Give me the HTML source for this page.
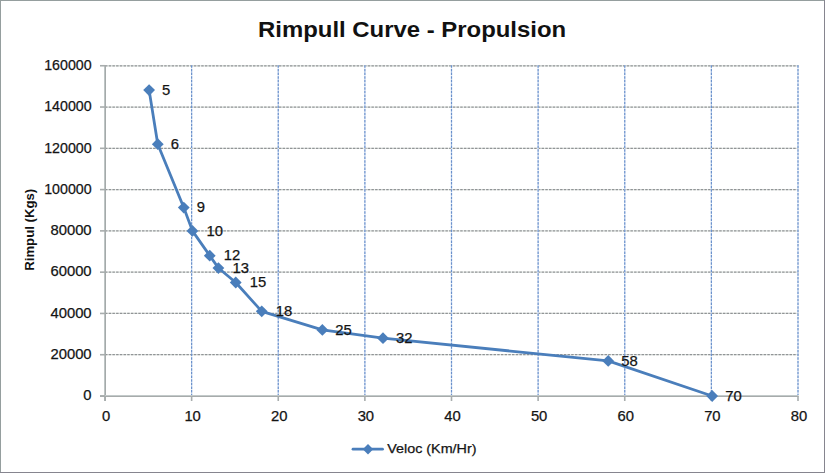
<!DOCTYPE html>
<html><head><meta charset="utf-8"><title>Rimpull Curve - Propulsion</title>
<style>
html,body{margin:0;padding:0;background:#fff;}
body{width:825px;height:473px;overflow:hidden;}
svg{display:block;}
.hg{stroke:#919496;stroke-width:1.25;stroke-dasharray:2.5 1.2;fill:none;}
.vg{stroke:#6990cc;stroke-width:1.2;stroke-dasharray:2.5 1.15;fill:none;}
.hgu{stroke:#e6ebe8;stroke-width:1.3;fill:none;}
.vgu{stroke:#dde7f5;stroke-width:1.3;fill:none;}
.ax{stroke:#a8adad;stroke-width:2;fill:none;}
.tk{stroke:#a8adad;stroke-width:1.6;fill:none;}
.sr{stroke:#4a7ebb;stroke-width:2.8;fill:none;stroke-linejoin:round;stroke-linecap:round;}
.mk{fill:#4a7ebb;stroke:none;}
.lb{font-family:"Liberation Sans", Arial, sans-serif;font-size:14.8px;fill:#141414;stroke:#141414;stroke-width:0.25px;}
.tt{font-family:"Liberation Sans", Arial, sans-serif;font-size:21.8px;font-weight:bold;fill:#111;}
.yt{font-family:"Liberation Sans", Arial, sans-serif;font-size:13px;font-weight:bold;fill:#111;}
</style></head>
<body>
<svg width="825" height="473" viewBox="0 0 825 473">
<rect x="0" y="0" width="825" height="473" fill="#fff"/>
<rect x="0.5" y="0.5" width="824" height="472" fill="none" stroke="#959e9e" stroke-width="1"/>
<line x1="824.5" y1="0" x2="824.5" y2="473" stroke="#86858f" stroke-width="1"/>
<line x1="0" y1="472.5" x2="825" y2="472.5" stroke="#86858f" stroke-width="1"/>
<line x1="105" y1="354.72" x2="798.50" y2="354.72" class="hgu"/>
<line x1="105" y1="354.72" x2="798.50" y2="354.72" class="hg"/>
<line x1="105" y1="313.44" x2="798.50" y2="313.44" class="hgu"/>
<line x1="105" y1="313.44" x2="798.50" y2="313.44" class="hg"/>
<line x1="105" y1="272.16" x2="798.50" y2="272.16" class="hgu"/>
<line x1="105" y1="272.16" x2="798.50" y2="272.16" class="hg"/>
<line x1="105" y1="230.88" x2="798.50" y2="230.88" class="hgu"/>
<line x1="105" y1="230.88" x2="798.50" y2="230.88" class="hg"/>
<line x1="105" y1="189.59" x2="798.50" y2="189.59" class="hgu"/>
<line x1="105" y1="189.59" x2="798.50" y2="189.59" class="hg"/>
<line x1="105" y1="148.31" x2="798.50" y2="148.31" class="hgu"/>
<line x1="105" y1="148.31" x2="798.50" y2="148.31" class="hg"/>
<line x1="105" y1="107.03" x2="798.50" y2="107.03" class="hgu"/>
<line x1="105" y1="107.03" x2="798.50" y2="107.03" class="hg"/>
<line x1="105" y1="65.75" x2="798.50" y2="65.75" class="hgu"/>
<line x1="105" y1="65.75" x2="798.50" y2="65.75" class="hg"/>
<line x1="191.62" y1="65.25" x2="191.62" y2="395" class="vgu"/>
<line x1="191.62" y1="65.25" x2="191.62" y2="395" class="vg"/>
<line x1="278.25" y1="65.25" x2="278.25" y2="395" class="vgu"/>
<line x1="278.25" y1="65.25" x2="278.25" y2="395" class="vg"/>
<line x1="364.88" y1="65.25" x2="364.88" y2="395" class="vgu"/>
<line x1="364.88" y1="65.25" x2="364.88" y2="395" class="vg"/>
<line x1="451.50" y1="65.25" x2="451.50" y2="395" class="vgu"/>
<line x1="451.50" y1="65.25" x2="451.50" y2="395" class="vg"/>
<line x1="538.12" y1="65.25" x2="538.12" y2="395" class="vgu"/>
<line x1="538.12" y1="65.25" x2="538.12" y2="395" class="vg"/>
<line x1="624.75" y1="65.25" x2="624.75" y2="395" class="vgu"/>
<line x1="624.75" y1="65.25" x2="624.75" y2="395" class="vg"/>
<line x1="711.38" y1="65.25" x2="711.38" y2="395" class="vgu"/>
<line x1="711.38" y1="65.25" x2="711.38" y2="395" class="vg"/>
<line x1="798.00" y1="65.25" x2="798.00" y2="395" class="vgu"/>
<line x1="798.00" y1="65.25" x2="798.00" y2="395" class="vg"/>
<line x1="104.5" y1="65.25" x2="104.5" y2="401" style="stroke:#bec5c5;stroke-width:1"/>
<line x1="105.5" y1="65.25" x2="105.5" y2="401" style="stroke:#a5aaaa;stroke-width:1"/>
<line x1="100" y1="395.5" x2="798.50" y2="395.5" style="stroke:#c3caca;stroke-width:1"/>
<line x1="100" y1="396.5" x2="798.50" y2="396.5" style="stroke:#a7abab;stroke-width:1"/>
<line x1="100" y1="396.00" x2="105" y2="396.00" class="tk"/>
<line x1="100" y1="354.72" x2="105" y2="354.72" class="tk"/>
<line x1="100" y1="313.44" x2="105" y2="313.44" class="tk"/>
<line x1="100" y1="272.16" x2="105" y2="272.16" class="tk"/>
<line x1="100" y1="230.88" x2="105" y2="230.88" class="tk"/>
<line x1="100" y1="189.59" x2="105" y2="189.59" class="tk"/>
<line x1="100" y1="148.31" x2="105" y2="148.31" class="tk"/>
<line x1="100" y1="107.03" x2="105" y2="107.03" class="tk"/>
<line x1="100" y1="65.75" x2="105" y2="65.75" class="tk"/>
<line x1="105.00" y1="396" x2="105.00" y2="401" class="tk"/>
<line x1="191.62" y1="396" x2="191.62" y2="401" class="tk"/>
<line x1="278.25" y1="396" x2="278.25" y2="401" class="tk"/>
<line x1="364.88" y1="396" x2="364.88" y2="401" class="tk"/>
<line x1="451.50" y1="396" x2="451.50" y2="401" class="tk"/>
<line x1="538.12" y1="396" x2="538.12" y2="401" class="tk"/>
<line x1="624.75" y1="396" x2="624.75" y2="401" class="tk"/>
<line x1="711.38" y1="396" x2="711.38" y2="401" class="tk"/>
<line x1="798.00" y1="396" x2="798.00" y2="401" class="tk"/>
<text x="91.6" y="400.20" text-anchor="end" class="lb">0</text>
<text x="91.6" y="358.92" text-anchor="end" class="lb">20000</text>
<text x="91.6" y="317.64" text-anchor="end" class="lb">40000</text>
<text x="91.6" y="276.36" text-anchor="end" class="lb">60000</text>
<text x="91.6" y="235.07" text-anchor="end" class="lb">80000</text>
<text x="91.6" y="193.79" text-anchor="end" class="lb" textLength="47.4" lengthAdjust="spacingAndGlyphs">100000</text>
<text x="91.6" y="152.51" text-anchor="end" class="lb" textLength="47.4" lengthAdjust="spacingAndGlyphs">120000</text>
<text x="91.6" y="111.23" text-anchor="end" class="lb" textLength="47.4" lengthAdjust="spacingAndGlyphs">140000</text>
<text x="91.6" y="69.95" text-anchor="end" class="lb" textLength="47.4" lengthAdjust="spacingAndGlyphs">160000</text>
<text x="106.00" y="420.6" text-anchor="middle" class="lb">0</text>
<text x="192.62" y="420.6" text-anchor="middle" class="lb">10</text>
<text x="279.25" y="420.6" text-anchor="middle" class="lb">20</text>
<text x="365.88" y="420.6" text-anchor="middle" class="lb">30</text>
<text x="452.50" y="420.6" text-anchor="middle" class="lb">40</text>
<text x="539.12" y="420.6" text-anchor="middle" class="lb">50</text>
<text x="625.75" y="420.6" text-anchor="middle" class="lb">60</text>
<text x="712.38" y="420.6" text-anchor="middle" class="lb">70</text>
<text x="799.00" y="420.6" text-anchor="middle" class="lb">80</text>
<polyline points="149.11,90.11 157.78,144.18 183.76,207.55 192.43,230.88 209.75,255.64 218.41,268.03 235.74,282.48 261.73,311.37 322.36,329.95 383.00,338.21 608.22,360.91 712.17,396.00" class="sr"/>
<path d="M149.11 84.21L155.01 90.11L149.11 96.01L143.21 90.11Z" class="mk"/>
<path d="M157.78 138.28L163.68 144.18L157.78 150.08L151.88 144.18Z" class="mk"/>
<path d="M183.76 201.65L189.66 207.55L183.76 213.45L177.86 207.55Z" class="mk"/>
<path d="M192.43 224.97L198.33 230.88L192.43 236.78L186.53 230.88Z" class="mk"/>
<path d="M209.75 249.74L215.65 255.64L209.75 261.54L203.85 255.64Z" class="mk"/>
<path d="M218.41 262.13L224.31 268.03L218.41 273.93L212.51 268.03Z" class="mk"/>
<path d="M235.74 276.58L241.64 282.48L235.74 288.38L229.84 282.48Z" class="mk"/>
<path d="M261.73 305.47L267.62 311.37L261.73 317.27L255.83 311.37Z" class="mk"/>
<path d="M322.36 324.05L328.26 329.95L322.36 335.85L316.46 329.95Z" class="mk"/>
<path d="M383.00 332.31L388.90 338.21L383.00 344.11L377.10 338.21Z" class="mk"/>
<path d="M608.22 355.01L614.12 360.91L608.22 366.81L602.32 360.91Z" class="mk"/>
<path d="M712.17 390.10L718.07 396.00L712.17 401.90L706.27 396.00Z" class="mk"/>
<text x="162.11" y="94.91" class="lb">5</text>
<text x="170.78" y="148.98" class="lb">6</text>
<text x="196.76" y="212.35" class="lb">9</text>
<text x="206.43" y="235.68" class="lb">10</text>
<text x="223.75" y="260.44" class="lb">12</text>
<text x="232.41" y="272.83" class="lb">13</text>
<text x="249.74" y="287.28" class="lb">15</text>
<text x="275.73" y="316.17" class="lb">18</text>
<text x="335.36" y="334.75" class="lb">25</text>
<text x="396.00" y="343.01" class="lb">32</text>
<text x="621.22" y="365.71" class="lb">58</text>
<text x="725.17" y="400.80" class="lb">70</text>
<text x="412.1" y="37.4" text-anchor="middle" class="tt" textLength="308" lengthAdjust="spacingAndGlyphs">Rimpull Curve - Propulsion</text>
<text transform="translate(34.0,229.8) rotate(-90)" text-anchor="middle" class="yt" textLength="82" lengthAdjust="spacingAndGlyphs">Rimpul (Kgs)</text>
<line x1="353.0" y1="449.2" x2="382.5" y2="449.2" class="sr"/>
<path d="M368.0 444.0L373.2 449.2L368.0 454.4L362.8 449.2Z" class="mk"/>
<text x="387.3" y="453.1" class="lb" style="font-size:13.5px" textLength="89.2" lengthAdjust="spacingAndGlyphs">Veloc (Km/Hr)</text>
</svg>
</body></html>
